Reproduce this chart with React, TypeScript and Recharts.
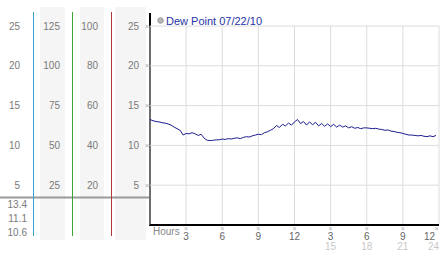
import React from 'react';
import {
  LineChart,
  Line,
  XAxis,
  YAxis,
  CartesianGrid,
} from 'recharts';

/* =======================
   Data
======================= */

// dew point readings, one every 15 minutes (00:00 -> 23:45)
const DEW_POINT = [
  13.25, 13.1, 13.0, 12.95, 12.85, 12.8, 12.7, 12.55,
  12.3, 12.1, 11.9, 11.3, 11.5, 11.45, 11.6, 11.45,
  11.25, 11.4, 10.9, 10.65, 10.6, 10.65, 10.7, 10.7,
  10.8, 10.75, 10.85, 10.8, 10.9, 10.95, 10.85, 11.0,
  11.1, 11.05, 11.2, 11.3, 11.4, 11.35, 11.6, 11.7,
  11.9, 12.1, 12.5, 12.25, 12.65, 12.45, 12.8, 12.55,
  12.95, 13.25, 12.75, 13.0, 12.55, 12.95, 12.6, 12.9,
  12.45, 12.75, 12.4, 12.7, 12.35, 12.65, 12.3, 12.55,
  12.3, 12.45, 12.2, 12.35, 12.15, 12.25, 12.1, 12.2,
  12.2, 12.15, 12.1, 12.15, 12.05, 12.0, 11.9, 11.95,
  11.8, 11.75, 11.65, 11.6, 11.5, 11.4, 11.3, 11.3,
  11.25, 11.2, 11.25, 11.15, 11.1, 11.2, 11.1, 11.25,
];

const HOUR_TICKS = [3, 6, 9, 12, 15, 18, 21, 24];
const HOUR_LABELS = ['3', '6', '9', '12', '3', '6', '9', '12'];
const HOUR_SUB_LABELS = ['', '', '', '', '15', '18', '21', '24'];

// left scale columns
const CELSIUS_TICKS = [5, 10, 15, 20, 25];
const PERCENT_TICKS = [25, 50, 75, 100, 125];
const HPA_TICKS = [20, 40, 60, 80, 100];

const STATS = ['13.4', '11.1', '10.6'];

const LEGEND_LABEL = 'Dew Point 07/22/10';

/* =======================
   Styles
======================= */
const COLORS = {
  line: '#1c1c8e',
  grid: '#dcdcdc',
  label: '#7a7a7a',
  band: '#f5f5f5',
  blue: '#3aa2cf',
  green: '#3aa63a',
  red: '#b33a3a',
  divider: '#9a9a9a',
  legend: '#2535a8',
  mark: '#a8a8a8',
};

const FONT = '"Liberation Sans", Arial, sans-serif';

const data = DEW_POINT.map((v, i) => ({ h: i * 0.25, dew: v }));

/* =======================
   Ticks
======================= */
const makeLeftTick = (withMark: boolean) => (props: any) => {
  const { x, y, payload } = props;
  return (
    <g>
      <text
        x={x}
        y={y + 3.5}
        textAnchor="end"
        fontSize={10}
        fontFamily={FONT}
        fill={COLORS.label}
      >
        {payload.value}
      </text>
      {withMark && (
        <text
          x={x + 8}
          y={y + 2.5}
          textAnchor="middle"
          fontSize={7}
          fontFamily={FONT}
          fill={COLORS.mark}
        >
          ×
        </text>
      )}
    </g>
  );
};

const HourTick = (props: any) => {
  const { x, y, index } = props;
  const last = index === HOUR_TICKS.length - 1;
  return (
    <g fontFamily={FONT}>
      <text
        x={last ? x - 2.5 : x}
        y={y + 6}
        textAnchor="middle"
        fontSize={7}
        fill={COLORS.mark}
      >
        ×
      </text>
      <text
        x={last ? x - 4 : x}
        y={y + 15}
        textAnchor={last ? 'end' : 'middle'}
        fontSize={10}
        fill="#666"
      >
        {HOUR_LABELS[index]}
      </text>
      <text
        x={x}
        y={y + 25}
        textAnchor={last ? 'end' : 'middle'}
        fontSize={10}
        fill="#c8c8c8"
      >
        {HOUR_SUB_LABELS[index]}
      </text>
    </g>
  );
};

/* =======================
   Component
======================= */
const App: React.FC = () => {
  return (
    <div
      style={{
        position: 'absolute',
        left: 0,
        top: 0,
        width: 442,
        height: 253,
        background: '#fff',
      }}
    >
      {/* background panel: bands, coloured dividers, legend */}
      <svg
        width={442}
        height={253}
        style={{ position: 'absolute', left: 0, top: 0 }}
      >
        <rect x={40} y={7} width={25} height={233} fill={COLORS.band} />
        <rect x={80} y={7} width={24} height={233} fill={COLORS.band} />
        <rect x={115} y={7} width={31} height={233} fill={COLORS.band} />

        <line x1={0} x2={150} y1={197.5} y2={197.5} stroke={COLORS.divider} strokeWidth={2} />
        <line x1={33.5} x2={33.5} y1={12} y2={236} stroke={COLORS.blue} />
        <line x1={72.5} x2={72.5} y1={12} y2={236} stroke={COLORS.green} />
        <line x1={111.5} x2={111.5} y1={12} y2={236} stroke={COLORS.red} />

        <line x1={150} x2={150} y1={13} y2={226} stroke="#000" strokeWidth={2} />

        {STATS.map((s, i) => (
          <text
            key={s + i}
            x={27}
            y={208 + i * 14}
            textAnchor="end"
            fontSize={10}
            fontFamily={FONT}
            fill={COLORS.label}
          >
            {s}
          </text>
        ))}

        <text x={153} y={235} fontSize={10} fontFamily={FONT} fill="#888">
          Hours
        </text>

        <circle cx={160.5} cy={20.5} r={2.8} fill="#b8b8b8" stroke="#8a8a8a" strokeWidth={0.8} />
        <text x={166} y={24.5} fontSize={11} fontFamily={FONT} fill={COLORS.legend}>
          {LEGEND_LABEL}
        </text>
      </svg>

      <div style={{ position: 'absolute', left: 0, top: 0 }}>
        <LineChart
          width={442}
          height={253}
          data={data}
          margin={{ top: 26, right: 3, bottom: 0, left: 0 }}
        >
          <CartesianGrid stroke={COLORS.grid} xAxisId="h" yAxisId="dew" />
          <XAxis
            xAxisId="h"
            dataKey="h"
            type="number"
            domain={[0, 24]}
            ticks={HOUR_TICKS}
            interval={0}
            height={28}
            tickSize={0}
            tickMargin={0}
            tickLine={false}
            axisLine={{ stroke: '#000', strokeWidth: 2 }}
            tick={<HourTick />}
          />
          <YAxis
            yAxisId="dew"
            domain={[0, 25]}
            ticks={CELSIUS_TICKS}
            width={39}
            tickSize={0}
            tickMargin={11}
            tickLine={false}
            axisLine={false}
            tick={makeLeftTick(true)}
          />
          <YAxis
            yAxisId="y1"
            type="number"
            domain={[0, 100]}
            allowDataOverflow
            ticks={HPA_TICKS}
            interval={0}
            width={39}
            tickSize={0}
            tickMargin={13}
            tickLine={false}
            axisLine={false}
            tick={makeLeftTick(false)}
          />
          <YAxis
            yAxisId="y2"
            type="number"
            domain={[0, 125]}
            allowDataOverflow
            ticks={PERCENT_TICKS}
            interval={0}
            width={39}
            tickSize={0}
            tickMargin={12}
            tickLine={false}
            axisLine={false}
            tick={makeLeftTick(false)}
          />
          <YAxis
            yAxisId="y3"
            type="number"
            domain={[0, 25]}
            allowDataOverflow
            ticks={CELSIUS_TICKS}
            interval={0}
            width={33}
            tickSize={0}
            tickMargin={13}
            tickLine={false}
            axisLine={false}
            tick={makeLeftTick(false)}
          />
          <Line
            xAxisId="h"
            yAxisId="dew"
            dataKey="dew"
            type="linear"
            stroke={COLORS.line}
            strokeWidth={1}
            dot={false}
            isAnimationActive={false}
          />
        </LineChart>
      </div>
    </div>
  );
};

export default App;
